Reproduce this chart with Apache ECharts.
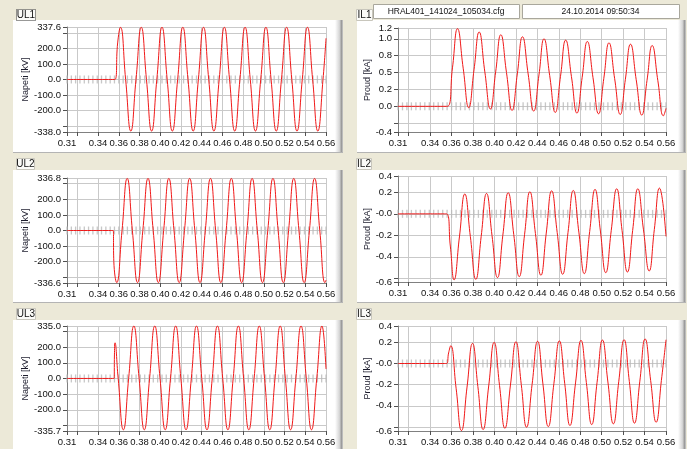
<!DOCTYPE html>
<html>
<head>
<meta charset="utf-8">
<script src="https://cdn.jsdelivr.net/npm/echarts@6/dist/echarts.min.js"></script>
<style>
  html, body { margin: 0; padding: 0; background: #ece9d8; }
  #chart { width: 687px; height: 449px; }
</style>
</head>
<body>
<div id="chart"></div>
<script>
// ---- recorded waveforms: [time s, value] ----
const ul1 = [
  [0.3100,0],[0.3300,0],[0.3500,0],[0.3562,0],[0.3589,235],[0.3616,336],
  [0.3666,0],[0.3716,-332],[0.3766,0],[0.3817,336],
  [0.3867,0],[0.3917,-332],[0.3967,0],[0.4017,336],
  [0.4067,0],[0.4117,-332],[0.4168,0],[0.4218,336],
  [0.4268,0],[0.4318,-332],[0.4368,0],[0.4418,336],
  [0.4468,0],[0.4518,-332],[0.4569,0],[0.4619,336],
  [0.4669,0],[0.4719,-332],[0.4769,0],[0.4819,336],
  [0.4869,0],[0.4919,-332],[0.4970,0],[0.5020,336],
  [0.5070,0],[0.5120,-332],[0.5170,0],[0.5220,336],
  [0.5270,0],[0.5320,-332],[0.5371,0],[0.5421,336],
  [0.5471,0],[0.5521,-332],[0.5571,0],[0.5600,265]
];
const ul2 = [
  [0.3100,0],[0.3300,0],[0.3500,0],[0.3546,0],[0.3552,-200],[0.3580,-334],
  [0.3631,0],[0.3681,334],[0.3731,0],[0.3781,-334],
  [0.3832,0],[0.3882,334],[0.3932,0],[0.3982,-334],
  [0.4033,0],[0.4083,334],[0.4133,0],[0.4183,-334],
  [0.4234,0],[0.4284,334],[0.4334,0],[0.4384,-334],
  [0.4435,0],[0.4485,334],[0.4535,0],[0.4585,-334],
  [0.4636,0],[0.4686,334],[0.4736,0],[0.4786,-334],
  [0.4837,0],[0.4887,334],[0.4937,0],[0.4987,-334],
  [0.5038,0],[0.5088,334],[0.5138,0],[0.5188,-334],
  [0.5239,0],[0.5289,334],[0.5339,0],[0.5389,-334],
  [0.5440,0],[0.5490,334],[0.5540,0],[0.5590,-334],
  [0.5600,-318]
];
const ul3 = [
  [0.3100,0],[0.3300,0],[0.3500,0],[0.3555,0],[0.3558,150],[0.3563,228],
  [0.3594,0],[0.3644,-328],
  [0.3695,0],[0.3745,335],[0.3796,0],[0.3846,-328],
  [0.3897,0],[0.3947,335],[0.3998,0],[0.4048,-328],
  [0.4099,0],[0.4149,335],[0.4199,0],[0.4249,-328],
  [0.4300,0],[0.4350,335],[0.4401,0],[0.4451,-328],
  [0.4502,0],[0.4552,335],[0.4603,0],[0.4653,-328],
  [0.4704,0],[0.4754,335],[0.4805,0],[0.4855,-328],
  [0.4906,0],[0.4956,335],[0.5007,0],[0.5057,-328],
  [0.5108,0],[0.5158,335],[0.5208,0],[0.5258,-328],
  [0.5309,0],[0.5359,335],[0.5410,0],[0.5460,-328],
  [0.5511,0],[0.5561,335],[0.5600,60]
];
const il1 = [
  [0.3100,0],[0.3300,0],[0.3500,0],[0.3560,0],
  [0.3608,0.57],[0.3655,1.15],
  [0.3708,0.565],[0.3760,-0.02],[0.3809,0.54],[0.3857,1.10],
  [0.3910,0.51],[0.3962,-0.04],[0.4011,0.51],[0.4059,1.06],
  [0.4112,0.50],[0.4164,-0.06],[0.4213,0.48],[0.4261,1.03],
  [0.4314,0.48],[0.4366,-0.07],[0.4415,0.465],[0.4462,1.00],
  [0.4515,0.455],[0.4567,-0.09],[0.4616,0.445],[0.4664,0.98],
  [0.4718,0.44],[0.4769,-0.10],[0.4818,0.43],[0.4866,0.96],
  [0.4919,0.425],[0.4971,-0.11],[0.5020,0.415],[0.5068,0.94],
  [0.5121,0.41],[0.5173,-0.12],[0.5221,0.40],[0.5269,0.92],
  [0.5322,0.395],[0.5374,-0.13],[0.5423,0.385],[0.5471,0.90],
  [0.5524,0.38],[0.5576,-0.14],[0.5600,-0.03]
];
const il2 = [
  [0.3100,0],[0.3300,0],[0.3500,0],[0.3552,0],
  [0.3588,-0.30],[0.3623,-0.615],
  [0.3673,-0.215],[0.3723,0.185],[0.3775,-0.212],[0.3826,-0.61],
  [0.3876,-0.21],[0.3926,0.19],[0.3977,-0.202],[0.4028,-0.594],
  [0.4078,-0.199],[0.4128,0.197],[0.4180,-0.194],[0.4231,-0.585],
  [0.4281,-0.19],[0.4330,0.206],[0.4382,-0.183],[0.4433,-0.572],
  [0.4483,-0.179],[0.4533,0.215],[0.4585,-0.174],[0.4636,-0.563],
  [0.4686,-0.172],[0.4735,0.218],[0.4787,-0.17],[0.4838,-0.557],
  [0.4888,-0.165],[0.4938,0.228],[0.4988,-0.16],[0.5038,-0.548],
  [0.5089,-0.157],[0.5140,0.234],[0.5190,-0.154],[0.5240,-0.542],
  [0.5289,-0.154],[0.5337,0.234],[0.5390,-0.149],[0.5443,-0.532],
  [0.5491,-0.146],[0.5539,0.24],[0.5600,-0.21]
];
const il3 = [
  [0.3100,0],[0.3300,0],[0.3500,0],[0.3552,0],[0.3572,0.10],[0.3592,0.168],
  [0.3642,-0.234],[0.3692,-0.635],
  [0.3744,-0.223],[0.3795,0.19],[0.3845,-0.218],[0.3894,-0.625],
  [0.3946,-0.213],[0.3997,0.20],[0.4047,-0.207],[0.4097,-0.613],
  [0.4149,-0.204],[0.4200,0.206],[0.4250,-0.199],[0.4299,-0.603],
  [0.4351,-0.197],[0.4402,0.21],[0.4452,-0.194],[0.4502,-0.597],
  [0.4554,-0.192],[0.4605,0.214],[0.4655,-0.187],[0.4704,-0.587],
  [0.4756,-0.184],[0.4807,0.219],[0.4857,-0.18],[0.4907,-0.578],
  [0.4957,-0.178],[0.5007,0.222],[0.5058,-0.175],[0.5109,-0.571],
  [0.5159,-0.173],[0.5209,0.225],[0.5258,-0.17],[0.5306,-0.565],
  [0.5356,-0.167],[0.5405,0.232],[0.5457,-0.162],[0.5508,-0.556],
  [0.5557,-0.16],[0.5600,0.225]
];

// sample markers drawn along the zero line
const sampleMarks = [
  0.3100,0.3142,0.3183,0.3225,0.3267,0.3308,0.3350,0.3392,0.3433,0.3475,
  0.3517,0.3558,0.3600,0.3642,0.3683,0.3725,0.3767,0.3808,0.3850,0.3892,
  0.3933,0.3975,0.4017,0.4058,0.4100,0.4142,0.4183,0.4225,0.4267,0.4308,
  0.4350,0.4392,0.4433,0.4475,0.4517,0.4558,0.4600,0.4642,0.4683,0.4725,
  0.4767,0.4808,0.4850,0.4892,0.4933,0.4975,0.5017,0.5058,0.5100,0.5142,
  0.5183,0.5225,0.5267,0.5308,0.5350,0.5392,0.5433,0.5475,0.5517,0.5558,0.5600
];

// ---- time axis ----
const timeGridLines = [0.31,0.32,0.34,0.36,0.38,0.40,0.42,0.44,0.46,0.48,0.50,0.52,0.54,0.56];
const timeTickLabels = [0.31,0.34,0.36,0.38,0.40,0.42,0.44,0.46,0.48,0.50,0.52,0.54,0.56];

// ---- value axes: grid lines, labelled ticks and their printed text ----
const ul1GridLines = [-338.0,-300,-200,-100,0,100,200,300,337.6];
const ul1Ticks     = [-338.0,-200,-100,0,100,200,337.6];
const ul1TickText  = ['-338.0','-200.0','-100.0','0.0','100.0','200.0','337.6'];

const ul2GridLines = [-336.6,-300,-200,-100,0,100,200,300,336.8];
const ul2Ticks     = [-336.6,-200,-100,0,100,200,336.8];
const ul2TickText  = ['-336.6','-200.0','-100.0','0.0','100.0','200.0','336.8'];

const ul3GridLines = [-335.7,-300,-200,-100,0,100,200,300,335.0];
const ul3Ticks     = [-335.7,-200,-100,0,100,200,335.0];
const ul3TickText  = ['-335.7','-200.0','-100.0','0.0','100.0','200.0','335.0'];

const il1GridLines = [-0.38,-0.25,0,0.25,0.5,0.75,1.0,1.16];
const il1Ticks     = [-0.38,0,0.25,0.5,0.75,1.0,1.16];
const il1TickText  = ['-0.4','0.0','0.2','0.5','0.8','1.0','1.2'];

const il2GridLines = [-0.635,-0.6,-0.4,-0.2,0,0.2,0.353];
const il2Ticks     = [-0.635,-0.4,-0.2,0,0.2,0.353];
const il2TickText  = ['-0.6','-0.4','-0.2','-0.0','0.2','0.4'];

const il3GridLines = [-0.639,-0.6,-0.4,-0.2,0,0.2,0.355];
const il3Ticks     = [-0.639,-0.4,-0.2,0,0.2,0.355];
const il3TickText  = ['-0.6','-0.4','-0.2','-0.0','0.2','0.4'];

const channelNames = ['UL1','IL1','UL2','IL2','UL3','IL3'];
const fileName = 'HRAL401_141024_105034.cfg';
const recordTime = '24.10.2014 09:50:34';

// ---- layout ----
const FONT = 'Liberation Sans';
const TEXT = '#101010';
const GRID_COLOR = '#c9c9c9';
const AXIS_COLOR = '#808080';
const TRACE = '#f01818';

const panels = [
  { name: channelNames[0], data: ul1, grid: ul1GridLines, ticks: ul1Ticks, text: ul1TickText, title: 'Napeti [kV]', rect: {left: 67, top: 27, width: 259, height: 105}, gap: 22 },
  { name: channelNames[1], data: il1, grid: il1GridLines, ticks: il1Ticks, text: il1TickText, title: 'Proud [kA]',  rect: {left: 398, top: 28, width: 268, height: 104}, gap: 17 },
  { name: channelNames[2], data: ul2, grid: ul2GridLines, ticks: ul2Ticks, text: ul2TickText, title: 'Napeti [kV]', rect: {left: 67, top: 178, width: 259, height: 105}, gap: 22 },
  { name: channelNames[3], data: il2, grid: il2GridLines, ticks: il2Ticks, text: il2TickText, title: 'Proud [kA]',  rect: {left: 398, top: 176, width: 268, height: 106}, gap: 17 },
  { name: channelNames[4], data: ul3, grid: ul3GridLines, ticks: ul3Ticks, text: ul3TickText, title: 'Napeti [kV]', rect: {left: 67, top: 326, width: 259, height: 105}, gap: 22 },
  { name: channelNames[5], data: il3, grid: il3GridLines, ticks: il3Ticks, text: il3TickText, title: 'Proud [kA]',  rect: {left: 398, top: 326, width: 268, height: 105}, gap: 17 }
];

function labelLookup(values, texts) {
  return function (v) {
    let best = 0;
    for (let i = 1; i < values.length; i++) {
      if (Math.abs(values[i] - v) < Math.abs(values[best] - v)) best = i;
    }
    return texts[best];
  };
}

const grids = [], xAxes = [], yAxes = [], series = [];
panels.forEach(function (p, i) {
  grids.push(Object.assign({ containLabel: false }, p.rect));
  xAxes.push({
    type: 'value', gridIndex: i, min: 0.31, max: 0.56,
    axisLine: { show: true, onZero: false, lineStyle: { color: AXIS_COLOR } },
    axisTick: { show: true, length: 4, customValues: timeGridLines, lineStyle: { color: '#505050' } },
    axisLabel: { customValues: timeTickLabels, formatter: function (v) { return v.toFixed(2); },
                 fontFamily: FONT, fontSize: 9.5, color: TEXT, margin: 6 },
    splitLine: { show: true, lineStyle: { color: GRID_COLOR, width: 1 } }
  });
  yAxes.push({
    type: 'value', gridIndex: i, min: p.grid[0], max: p.grid[p.grid.length - 1],
    name: p.title, nameLocation: 'middle', nameGap: p.gap,
    nameTextStyle: { fontFamily: FONT, fontSize: 9, color: '#1c1c2c' },
    axisLine: { show: true, onZero: false, lineStyle: { color: AXIS_COLOR } },
    axisTick: { show: true, length: 4, customValues: p.grid, lineStyle: { color: '#505050' } },
    axisLabel: { customValues: p.ticks, formatter: labelLookup(p.ticks, p.text),
                 fontFamily: FONT, fontSize: 9.5, color: TEXT, margin: 6 },
    splitLine: { show: true, lineStyle: { color: GRID_COLOR, width: 1 } }
  });
  series.push({
    type: 'scatter', xAxisIndex: i, yAxisIndex: i, silent: true, z: 1,
    symbol: 'rect', symbolSize: [1.3, 8],
    itemStyle: { color: '#b9b9b9' },
    data: sampleMarks.map(function (t) { return [t, 0]; })
  });
  series.push({
    type: 'line', name: p.name, xAxisIndex: i, yAxisIndex: i, z: 3,
    showSymbol: false, smooth: 0.5, silent: true,
    lineStyle: { color: TRACE, width: 1 },
    data: p.data
  });
});

// ---- window frames ----
const frames = [];
const panelBoxes = [
  { x: 13, y: 20, w: 330, h: 133 }, { x: 357, y: 20, w: 329, h: 133 },
  { x: 13, y: 170, w: 330, h: 133 }, { x: 357, y: 170, w: 329, h: 133 },
  { x: 13, y: 320, w: 330, h: 130 }, { x: 357, y: 320, w: 329, h: 130 }
];
panelBoxes.forEach(function (b) {
  frames.push({ type: 'rect', z: -10, shape: { x: b.x, y: b.y, width: b.w, height: b.h }, style: { fill: '#ffffff' } });
  frames.push({ type: 'rect', z: -9, shape: { x: b.x + b.w - 8, y: b.y, width: 8, height: b.h },
    style: { fill: new echarts.graphic.LinearGradient(0, 0, 1, 0, [
      { offset: 0, color: '#ffffff' }, { offset: 0.55, color: '#d6d6d6' },
      { offset: 0.85, color: '#939393' }, { offset: 1, color: '#d8d8d8' }]) } });
  frames.push({ type: 'rect', z: -9, shape: { x: b.x, y: b.y + b.h - 1, width: b.w, height: 1 }, style: { fill: '#b4b4b4' } });
});
const tagBoxes = [
  { x: 16, y: 9, w: 19, h: 11, dotted: true }, { x: 356, y: 9, w: 16, h: 11 },
  { x: 16, y: 158, w: 18, h: 11 }, { x: 356, y: 158, w: 15, h: 11 },
  { x: 16, y: 308, w: 19, h: 11 }, { x: 356, y: 308, w: 15, h: 11 }
];
tagBoxes.forEach(function (b, i) {
  frames.push({ type: 'rect', z: -8, shape: { x: b.x + 0.5, y: b.y + 0.5, width: b.w, height: b.h },
    style: { fill: '#fbfbf8', stroke: b.dotted ? '#333333' : '#c8c6bc', lineWidth: 1, lineDash: b.dotted ? [1, 1] : null } });
  frames.push({ type: 'text', z: -7, x: b.x + b.w / 2 + 0.5, y: b.y + b.h / 2 + 1,
    style: { text: channelNames[i], font: '10px ' + FONT, fill: '#111111', align: 'center', verticalAlign: 'middle' } });
});
[{ x: 373, w: 146, t: fileName }, { x: 522, w: 157, t: recordTime }].forEach(function (b) {
  frames.push({ type: 'rect', z: -8, shape: { x: b.x + 0.5, y: 4.5, width: b.w, height: 14 },
    style: { fill: '#ffffff', stroke: '#a9a79c', lineWidth: 1 } });
  frames.push({ type: 'text', z: -7, x: b.x + b.w / 2, y: 12,
    style: { text: b.t, font: '8.5px ' + FONT, fill: '#111111', align: 'center', verticalAlign: 'middle' } });
});

const chart = echarts.init(document.getElementById('chart'), null, { renderer: 'canvas' });
chart.setOption({
  backgroundColor: '#ece9d8',
  animation: false,
  grid: grids,
  xAxis: xAxes,
  yAxis: yAxes,
  series: series,
  graphic: { elements: frames }
});
</script>
</body>
</html>
